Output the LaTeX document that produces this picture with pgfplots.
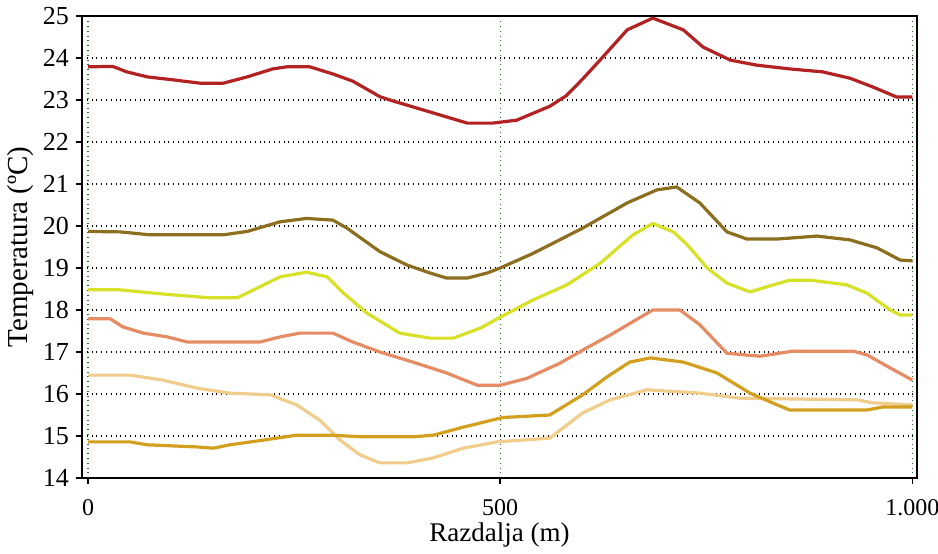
\documentclass[border=0pt]{standalone}
\usepackage{pgfplots}
\pgfplotsset{compat=1.18}
\usepackage{fontspec}
\setmainfont{Liberation Serif}
\definecolor{cRed}{RGB}{178,34,34}
\definecolor{cOlive}{RGB}{139,110,30}
\definecolor{cYellow}{RGB}{215,225,40}
\definecolor{cSalmon}{RGB}{230,140,100}
\definecolor{cPeach}{RGB}{240,205,140}
\definecolor{cGold}{RGB}{210,160,30}
\definecolor{cGrid}{RGB}{40,110,40}
\begin{document}
\begin{tikzpicture}
\path[use as bounding box] (-41pt,-37.5pt) rectangle (428pt,239pt);
\begin{axis}[
  at={(0,0)}, anchor=south west,
  scale only axis, width=417.5pt, height=231pt,
  xmin=-7.3, xmax=1005.5, ymin=14, ymax=25,
  xtick={0,500,1000}, xticklabels={0,500,1.000},
  ytick={14,15,...,25},
  tick align=outside, tick pos=left, major tick length=3pt,
  tick style={black, line width=0.8pt},
  axis line style={black, line width=0.9pt},
  grid=major,
  x grid style={cGrid, dotted, line width=0.6pt},
  y grid style={black, dotted, line width=0.6pt},
  /pgf/number format/assume math mode=true,
  ticklabel style={font=\fontsize{13}{15}\selectfont},
  xticklabel style={yshift=-4pt, font=\fontsize{12}{14}\selectfont},
  label style={font=\fontsize{13.5}{15}\selectfont},
  xlabel={Razdalja (m)}, ylabel={Temperatura (ºC)},
  xlabel style={yshift=3pt},
  ylabel style={yshift=-2pt, font=\fontsize{14.5}{16}\selectfont},
  every axis plot/.append style={line width=1.6pt, line join=round},
]
\addplot[cRed] coordinates {(0,23.79)(30,23.8)(47,23.67)(72,23.55)(103,23.48)(136,23.4)(164,23.4)(193,23.55)(224,23.74)(241,23.79)(269,23.79)(297,23.62)(321,23.45)(354,23.08)(366,23.0)(419,22.69)(460,22.45)(491,22.45)(520,22.52)(560,22.85)(580,23.1)(600,23.5)(621,23.95)(654,24.67)(685,24.95)(722,24.67)(746,24.26)(779,23.95)(811,23.83)(851,23.74)(891,23.67)(924,23.52)(952,23.31)(981,23.07)(1000,23.07)};
\addplot[cOlive] coordinates {(0,19.87)(39,19.86)(75,19.79)(164,19.79)(193,19.87)(233,20.1)(265,20.18)(297,20.14)(314,19.95)(354,19.39)(387,19.07)(415,18.88)(435,18.76)(460,18.76)(484,18.88)(500,19.0)(540,19.35)(600,19.95)(654,20.55)(690,20.86)(714,20.93)(742,20.55)(775,19.86)(799,19.69)(836,19.69)(884,19.76)(924,19.67)(957,19.48)(985,19.19)(1000,19.17)};
\addplot[cYellow] coordinates {(0,18.48)(39,18.48)(91,18.38)(148,18.29)(181,18.29)(205,18.52)(233,18.79)(265,18.9)(290,18.79)(310,18.4)(338,17.93)(378,17.45)(415,17.33)(443,17.33)(476,17.57)(500,17.83)(540,18.24)(581,18.6)(621,19.11)(661,19.79)(685,20.06)(710,19.86)(727,19.55)(751,19.0)(775,18.64)(803,18.43)(823,18.55)(851,18.71)(876,18.71)(920,18.6)(945,18.4)(973,18.0)(985,17.88)(1000,17.88)};
\addplot[cSalmon] coordinates {(0,17.79)(27,17.79)(42,17.6)(67,17.45)(96,17.36)(120,17.24)(209,17.24)(233,17.36)(257,17.45)(297,17.45)(321,17.24)(354,17.0)(394,16.76)(435,16.5)(472,16.21)(500,16.21)(532,16.37)(572,16.73)(605,17.1)(633,17.4)(685,18.0)(718,18.0)(742,17.65)(775,16.97)(815,16.9)(855,17.02)(928,17.02)(945,16.93)(973,16.62)(1000,16.33)};
\addplot[cPeach] coordinates {(0,16.45)(51,16.45)(91,16.33)(132,16.14)(172,16.02)(221,15.98)(253,15.74)(281,15.38)(306,14.9)(330,14.55)(354,14.36)(387,14.36)(419,14.48)(455,14.71)(496,14.86)(560,14.95)(600,15.55)(633,15.86)(678,16.1)(742,16.02)(791,15.9)(933,15.86)(952,15.79)(1000,15.74)};
\addplot[cGold] coordinates {(0,14.86)(51,14.86)(72,14.79)(132,14.74)(152,14.71)(172,14.79)(212,14.9)(253,15.02)(294,15.02)(334,14.98)(394,14.98)(419,15.02)(455,15.21)(503,15.44)(560,15.5)(600,15.98)(629,16.4)(657,16.76)(682,16.86)(722,16.76)(763,16.5)(803,16.02)(836,15.74)(851,15.62)(945,15.62)(964,15.69)(1000,15.69)};
\end{axis}
\end{tikzpicture}
\end{document}
